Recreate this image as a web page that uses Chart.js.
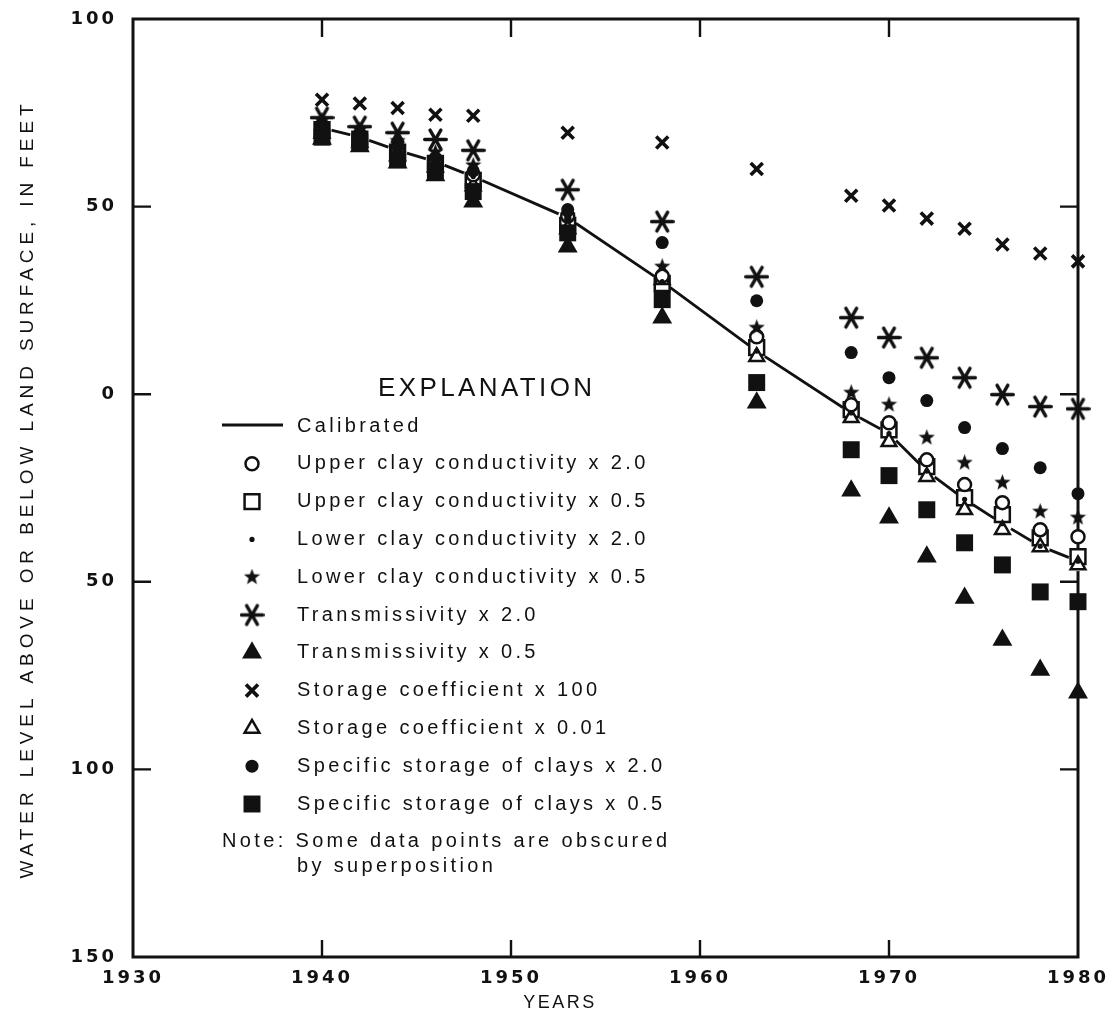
<!DOCTYPE html>
<html>
<head>
<meta charset="utf-8">
<title>Water level sensitivity runs</title>
<script src="https://cdn.jsdelivr.net/npm/chart.js@4/dist/chart.umd.min.js"></script>
<style>
  html, body { margin: 0; padding: 0; background: #fff; }
</style>
</head>
<body>
<canvas id="levels" width="1108" height="1025"></canvas>
<script>
// simulated water levels (feet above (+) / below (-) land surface)
const years = [1940, 1942, 1944, 1946, 1948, 1953, 1958, 1963, 1968, 1970, 1972, 1974, 1976, 1978, 1980];
const calibrated  = [71, 68.5, 65, 62, 58, 47, 30, 11.5, -5, -10.5, -20.5, -28, -34.5, -40.5, -44.5];
const upperClay2  = [71.5, 69, 65.5, 62.5, 58.5, 47.5, 31.5, 15.3, -2.8, -7.6, -17.5, -24.1, -28.9, -36.1, -38];
const upperClay05 = [70.5, 68, 64.5, 61.5, 57, 45, 29.5, 12.4, -4.1, -9.5, -19.3, -27.6, -32.1, -38.3, -43.3];
const lowerClay2  = [71, 68.5, 65, 62, 58, 46.5, 30, 11.5, -5, -10.5, -20.5, -28, -34.5, -40.5, -44.5];
const lowerClay05 = [73, 70.5, 67.5, 64.5, 61, 47.6, 34, 17.7, 0.4, -2.8, -11.6, -18.3, -23.6, -31.3, -32.9];
const trans2      = [73.7, 71.3, 69.7, 67.9, 65, 54.5, 46, 31.3, 20.4, 15.1, 9.7, 4.4, -0.1, -3.3, -3.9];
const trans05     = [68, 66, 61.7, 58.3, 51.3, 39.3, 20.4, -2.3, -25.7, -32.9, -43.3, -54.3, -65.5, -73.5, -79.6];
const storage100  = [78.5, 77.5, 76.3, 74.5, 74.2, 69.7, 67.1, 60, 52.9, 50.3, 46.8, 44.1, 39.9, 37.5, 35.4];
const storage001  = [69.5, 67, 63.5, 60.5, 55.5, 44, 30.5, 10, -6.3, -12.7, -22, -30.8, -36.1, -40.7, -45.5];
const specStor2   = [72, 69.5, 66, 63, 59.5, 49.2, 40.4, 24.9, 11.1, 4.4, -1.7, -8.9, -14.5, -19.6, -26.5];
const specStor05  = [68.5, 67, 62.5, 59.5, 54, 43, 25.2, 3.1, -14.8, -21.7, -30.8, -39.6, -45.5, -52.7, -55.3];

const xTicks = [1930, 1980, 10];   // min, max, step
const yTicks = [-150, 100, 50];

const INK = '#111';
const WHITE = '#fff';

// five pointed star marker
function starMarker(size) {
	const c = document.createElement('canvas');
	c.width = c.height = size;
	const g = c.getContext('2d');
	const r = size / 2, ri = r * 0.42;
	g.beginPath();
	for (let i = 0; i < 10; i++) {
		const a = -Math.PI / 2 + i * Math.PI / 5;
		const rr = i % 2 ? ri : r;
		g.lineTo(r + rr * Math.cos(a), r + rr * Math.sin(a));
	}
	g.closePath();
	g.fillStyle = INK;
	g.fill();
	return c;
}

// six armed asterisk marker
function asteriskMarker(size, lw) {
	const c = document.createElement('canvas');
	c.width = c.height = size;
	const g = c.getContext('2d');
	const r = size / 2, len = r - lw / 2;
	g.strokeStyle = INK;
	g.lineWidth = lw;
	g.lineCap = 'round';
	g.beginPath();
	for (let i = 0; i < 3; i++) {
		const a = i * Math.PI / 3;
		g.moveTo(r - len * Math.cos(a), r - len * Math.sin(a));
		g.lineTo(r + len * Math.cos(a), r + len * Math.sin(a));
	}
	g.stroke();
	return c;
}

function series(label, values, style) {
	return Object.assign({
		label: label,
		data: values.map((v, i) => ({ x: years[i], y: v })),
		showLine: false,
		clip: false,
		pointBackgroundColor: INK,
		pointBorderColor: INK,
		pointBorderWidth: 0,
	}, style);
}

// first dataset ends up on top
const datasets = [
	series('Storage coefficient x 100', storage100, { pointStyle: 'crossRot', pointRadius: 8.5, pointBorderWidth: 3.6 }),
	series('Transmissivity x 2.0', trans2, { pointStyle: asteriskMarker(25, 3.4), pointRadius: 12 }),
	series('Specific storage of clays x 2.0', specStor2, { pointStyle: 'circle', pointRadius: 6.5 }),
	series('Specific storage of clays x 0.5', specStor05, { pointStyle: 'rect', pointRadius: 12 }),
	series('Transmissivity x 0.5', trans05, { pointStyle: 'triangle', pointRadius: 11.5 }),
	series('Lower clay conductivity x 0.5', lowerClay05, { pointStyle: starMarker(17), pointRadius: 8 }),
	series('Lower clay conductivity x 2.0', lowerClay2, { pointStyle: 'circle', pointRadius: 2.6 }),
	series('Upper clay conductivity x 2.0', upperClay2, { pointStyle: 'circle', pointRadius: 6.5, pointBackgroundColor: WHITE, pointBorderWidth: 2.5 }),
	series('Storage coefficient x 0.01', storage001, { pointStyle: 'triangle', pointRadius: 8.5, pointBackgroundColor: WHITE, pointBorderWidth: 2.5 }),
	series('Upper clay conductivity x 0.5', upperClay05, { pointStyle: 'rect', pointRadius: 10.5, pointBackgroundColor: WHITE, pointBorderWidth: 2.5 }),
	{
		label: 'Calibrated',
		data: calibrated.map((v, i) => ({ x: years[i], y: v })),
		showLine: true,
		clip: false,
		borderColor: INK,
		borderWidth: 2.8,
		// white dots break the line around each marker stack
		pointRadius: 10,
		pointBackgroundColor: WHITE,
		pointBorderWidth: 0,
		order: 50,
	},
];

// rows of the explanation box, top to bottom
const explanationOrder = [
	'Calibrated',
	'Upper clay conductivity x 2.0',
	'Upper clay conductivity x 0.5',
	'Lower clay conductivity x 2.0',
	'Lower clay conductivity x 0.5',
	'Transmissivity x 2.0',
	'Transmissivity x 0.5',
	'Storage coefficient x 100',
	'Storage coefficient x 0.01',
	'Specific storage of clays x 2.0',
	'Specific storage of clays x 0.5',
];

// letter spaced type for the axis labels
const spacing = {
	id: 'spacing',
	beforeDraw(chart) { chart.ctx.letterSpacing = '3px'; },
	afterDraw(chart) { chart.ctx.letterSpacing = '0px'; },
};

// box around the plot with inward tick marks
const frame = {
	id: 'frame',
	beforeDatasetsDraw(chart) {
		const { ctx, chartArea: a } = chart;
		const x = chart.scales.x, y = chart.scales.y;
		ctx.save();
		ctx.strokeStyle = INK;
		ctx.lineWidth = 3;
		ctx.strokeRect(a.left, a.top, a.right - a.left, a.bottom - a.top);
		ctx.lineWidth = 2.4;
		ctx.beginPath();
		x.ticks.forEach((t) => {
			if (t.value <= x.min || t.value >= x.max) return;
			const px = x.getPixelForValue(t.value);
			ctx.moveTo(px, a.top); ctx.lineTo(px, a.top + 18);
			ctx.moveTo(px, a.bottom); ctx.lineTo(px, a.bottom - 17);
		});
		y.ticks.forEach((t) => {
			if (t.value <= y.min || t.value >= y.max) return;
			const py = y.getPixelForValue(t.value);
			ctx.moveTo(a.left, py); ctx.lineTo(a.left + 18, py);
			ctx.moveTo(a.right, py); ctx.lineTo(a.right - 18, py);
		});
		ctx.stroke();
		ctx.restore();
	},
};

// axis titles and the explanation box
const explanation = {
	id: 'explanation',
	afterDraw(chart) {
		const ctx = chart.ctx;
		ctx.save();
		ctx.fillStyle = INK;
		ctx.strokeStyle = INK;

		ctx.textBaseline = 'middle';
		ctx.textAlign = 'center';
		ctx.letterSpacing = '2.5px';
		ctx.font = '18px "Liberation Sans", Arial, sans-serif';
		ctx.fillText('YEARS', 560, 1003);

		ctx.save();
		ctx.translate(28, 489);
		ctx.rotate(-Math.PI / 2);
		ctx.font = '19px "Liberation Sans", Arial, sans-serif';
		ctx.letterSpacing = '4.9px';
		ctx.fillText('WATER LEVEL ABOVE OR BELOW LAND SURFACE, IN FEET', 0, 0);
		ctx.restore();

		ctx.textAlign = 'left';
		ctx.font = '26px "Liberation Sans", Arial, sans-serif';
		ctx.letterSpacing = '3.4px';
		ctx.fillText('EXPLANATION', 378, 389);

		const markX = 252, textX = 297, top = 426, gap = 37.8;
		ctx.font = '20px "Liberation Sans", Arial, sans-serif';
		ctx.letterSpacing = '3.35px';
		explanationOrder.forEach((label, i) => {
			const rowY = top + i * gap;
			const ds = chart.data.datasets.find((d) => d.label === label);
			if (ds.showLine) {
				ctx.lineWidth = ds.borderWidth;
				ctx.beginPath();
				ctx.moveTo(222, rowY - 1);
				ctx.lineTo(283, rowY - 1);
				ctx.stroke();
			} else {
				ctx.fillStyle = ds.pointBackgroundColor;
				ctx.strokeStyle = ds.pointBorderColor;
				ctx.lineWidth = ds.pointBorderWidth;
				Chart.helpers.drawPoint(ctx, {
					pointStyle: ds.pointStyle,
					radius: ds.pointRadius,
					borderWidth: ds.pointBorderWidth,
					rotation: 0,
				}, markX, rowY);
				ctx.fillStyle = INK;
				ctx.strokeStyle = INK;
			}
			ctx.fillText(label, textX, rowY);
		});
		ctx.fillText('Note: Some data points are obscured', 222, top + explanationOrder.length * gap);
		ctx.fillText('by superposition', textX, top + explanationOrder.length * gap + 25);
		ctx.restore();
	},
};

const tickFont = { family: '"DejaVu Sans", Arial, sans-serif', size: 18, weight: 'bold' };

new Chart(document.getElementById('levels'), {
	type: 'scatter',
	data: { datasets: datasets },
	options: {
		responsive: false,
		animation: false,
		events: [],
		layout: { padding: { top: 19, right: 30, bottom: 0, left: 0 } },
		plugins: {
			legend: { display: false },
			tooltip: { enabled: false },
		},
		scales: {
			x: {
				type: 'linear',
				min: xTicks[0],
				max: xTicks[1],
				ticks: {
					stepSize: xTicks[2],
					color: INK,
					font: tickFont,
					padding: 11,
					callback: (v) => String(v),
				},
				grid: { display: false, drawTicks: false },
				border: { display: false },
				afterFit: (s) => {
					s.height = 68;
					// end labels may hang over the sides
					s.paddingLeft = 0;
					s.paddingRight = 0;
				},
			},
			y: {
				type: 'linear',
				min: yTicks[0],
				max: yTicks[1],
				ticks: {
					stepSize: yTicks[2],
					color: INK,
					font: tickFont,
					padding: 16,
					callback: (v) => String(Math.abs(v)),
				},
				grid: { display: false, drawTicks: false },
				border: { display: false },
				afterFit: (s) => {
					s.width = 133;
					s.paddingTop = 0;
					s.paddingBottom = 0;
				},
			},
		},
	},
	plugins: [spacing, frame, explanation],
});
</script>
</body>
</html>
